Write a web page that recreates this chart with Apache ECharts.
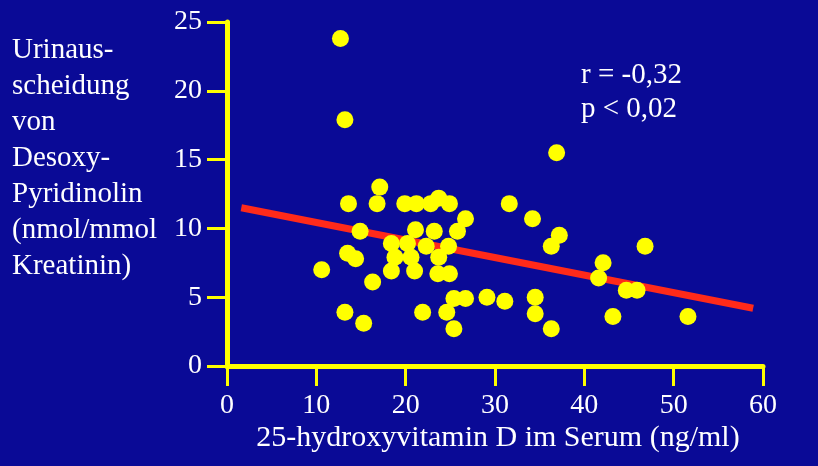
<!DOCTYPE html>
<html>
<head>
<meta charset="utf-8">
<script src="https://cdn.jsdelivr.net/npm/echarts@6/dist/echarts.min.js"></script>
<style>
html,body{margin:0;padding:0;background:#0a0a96;}
#c{width:818px;height:466px;}
</style>
</head>
<body>
<div id="c"></div>
<script>
// 25-hydroxyvitamin D (ng/ml) vs. urinary deoxypyridinoline
var vitaminD = [12.7,13.2,17.1,13.6,16.8,19.9,21.2,22.8,23.7,24.9,26.7,14.9,21.1,23.2,25.8,18.4,20.2,22.3,24.8,13.5,14.4,18.8,20.6,23.7,18.4,21.0,23.6,24.9,16.3,25.4,26.7,13.2,21.9,24.6,15.3,25.4,10.6,29.1,31.1,31.6,34.2,36.9,37.2,36.3,46.8,42.1,41.6,44.7,45.9,34.5,34.5,36.3,43.2,51.6];
var dpd = [23.8,17.9,13.0,11.8,11.8,11.8,11.8,11.8,12.2,11.8,10.7,9.8,9.9,9.8,9.8,8.9,8.9,8.7,8.7,8.2,7.8,7.9,7.9,7.9,6.9,6.9,6.7,6.7,6.1,4.9,4.9,3.9,3.9,3.9,3.1,2.7,7.0,5.0,4.7,11.8,10.7,15.5,9.5,8.7,8.7,7.5,6.4,5.5,5.5,5.0,3.8,2.7,3.6,3.6];
var regressionX = [1.6, 58.9];
var regressionY = [11.5, 4.2];
var xTicks = [0,10,20,30,40,50,60];
var yTicks = [0,5,10,15,20,25];
var yTitle = ['Urinaus-','scheidung','von','Desoxy-','Pyridinolin','(nmol/mmol','Kreatinin)'];
var xTitle = '25-hydroxyvitamin D im Serum (ng/ml)';
var stats = ['r = -0,32','p < 0,02'];

var points = vitaminD.map(function(v,i){return [v, dpd[i]];});
var regLine = regressionX.map(function(v,i){return [v, regressionY[i]];});

var font = "'Liberation Serif','Times New Roman',serif";
var yellow = '#ffff00';

var chart = echarts.init(document.getElementById('c'));
chart.setOption({
  backgroundColor: '#0a0a96',
  animation: false,
  grid: {left: 227, right: 55, top: 22, bottom: 100},
  xAxis: {
    type: 'value', min: xTicks[0], max: xTicks[xTicks.length-1], interval: 10,
    axisLine: {lineStyle: {color: yellow, width: 5}},
    axisTick: {show: true, length: 20, lineStyle: {color: yellow, width: 3}},
    axisLabel: {color: '#ffffff', fontFamily: font, fontSize: 28, margin: 26},
    splitLine: {show: false}
  },
  yAxis: {
    type: 'value', min: yTicks[0], max: yTicks[yTicks.length-1], interval: 5,
    axisLine: {show: true, lineStyle: {color: yellow, width: 5}},
    axisTick: {show: true, length: 20, lineStyle: {color: yellow, width: 3}},
    axisLabel: {color: '#ffffff', fontFamily: font, fontSize: 28, margin: 25},
    splitLine: {show: false}
  },
  series: [
    {
      type: 'line', data: regLine, symbol: 'none', z: 1,
      lineStyle: {color: '#ff2a1a', width: 7}
    },
    {
      type: 'scatter', data: points, symbolSize: 17, z: 2,
      itemStyle: {color: yellow, opacity: 1}
    }
  ],
  graphic: [
    {type: 'text', left: 12, top: 32, style: {text: yTitle.join('\n'), fill: '#ffffff', font: '29px ' + font, lineHeight: 36}},
    {type: 'text', left: 581, top: 58, style: {text: stats.join('\n'), fill: '#ffffff', font: '29px ' + font, lineHeight: 34}},
    {type: 'text', x: 498, y: 438, style: {text: xTitle, fill: '#ffffff', font: '30px ' + font, align: 'center', verticalAlign: 'middle'}}
  ]
});
</script>
</body>
</html>
